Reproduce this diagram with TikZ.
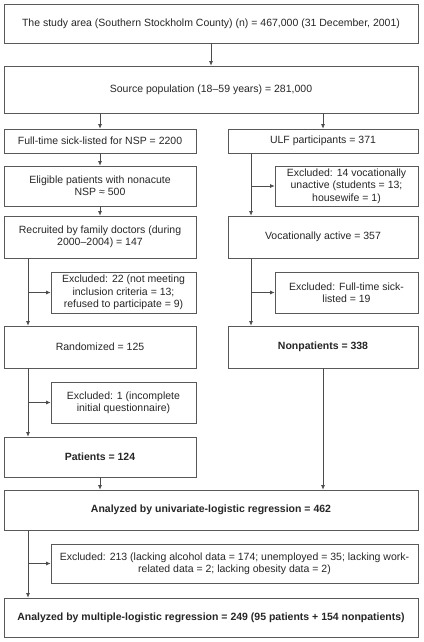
\documentclass[tikz,border=0pt]{standalone}
\usepackage{fontspec}
\setmainfont{Liberation Sans}
\usepackage{tikz}
\usetikzlibrary{arrows,arrows.meta,shapes}
\tikzstyle{box}=[rectangle,draw=black!65,line width=0.7pt,text=black!85,align=center,inner sep=2pt,font=\fontsize{10.5}{12.4}\selectfont]
\tikzstyle{bold box} = [box, font=\fontsize{10.5}{12.4}\selectfont\bfseries]
\tikzstyle{edge} = [draw,black!70,line width=0.7pt,-{Latex[length=4.5pt,width=4pt]}]

\begin{document}
\begin{tikzpicture}[x=1pt,y=-1pt]
    \useasboundingbox (0,0) rectangle (423,642);
    % First we draw the boxes
    \node[box,minimum width=414pt,minimum height=39pt] (study) at (211,23.5) {The study area (Southern Stockholm County) (n) = 467,000 (31 December, 2001)};
    \node[box,minimum width=414pt,minimum height=47pt] (source) at (211,89.5) {Source population (18--59 years) = 281,000};
    \node[box,minimum width=192pt,minimum height=24pt] (nsp) at (100,141) {Full-time sick-listed for NSP = 2200};
    \node[box,minimum width=190pt,minimum height=24pt] (ulf) at (323,141) {ULF participants = 371};
    \node[box,minimum width=192pt,minimum height=40pt] (eligible) at (100,186) {Eligible patients with nonacute\\NSP ≈ 500};
    \node[box,minimum width=143pt,minimum height=40pt] (exclR1) at (346.5,186) {Excluded: 14 vocationally\\unactive (students = 13;\\housewife = 1)};
    \node[box,minimum width=192pt,minimum height=42pt] (recruited) at (100,237) {Recruited by family doctors (during\\2000--2004) = 147};
    \node[box,minimum width=190pt,minimum height=42pt] (vocational) at (323,237) {Vocationally active = 357};
    \node[box,minimum width=145pt,minimum height=41pt] (exclL2) at (123.5,292.5) {Excluded: 22 (not meeting\\inclusion criteria = 13;\\refused to participate = 9)};
    \node[box,minimum width=143pt,minimum height=41pt] (exclR2) at (346.5,292.5) {Excluded: Full-time sick-\\listed = 19};
    \node[box,minimum width=192pt,minimum height=42pt] (randomized) at (100,347) {Randomized = 125};
    \node[bold box,minimum width=190pt,minimum height=42pt] (nonpatients) at (323,347) {Nonpatients = 338};
    \node[box,minimum width=145pt,minimum height=41pt] (exclL3) at (123.5,402.5) {Excluded: 1 (incomplete\\initial questionnaire)};
    \node[bold box,minimum width=192pt,minimum height=40pt] (patients) at (100,457) {Patients = 124};
    \node[bold box,minimum width=414pt,minimum height=40pt] (univariate) at (211,510) {Analyzed by univariate-logistic regression = 462};
    \node[box,minimum width=367pt,minimum height=39pt] (exclL4) at (234.5,563.5) {Excluded: 213 (lacking alcohol data = 174; unemployed = 35; lacking work-\\related data = 2; lacking obesity data = 2)};
    \node[bold box,minimum width=414pt,minimum height=39pt] (multiple) at (211,617.5) {Analyzed by multiple-logistic regression = 249 (95 patients + 154 nonpatients)};

    % trunks for the side exclusions
    \coordinate (trunkL) at (28,0);
    \coordinate (trunkR) at (251,0);

    % Connect boxes with arrows
    \foreach \source/\dest in {study/source, nsp/eligible, eligible/recruited}
        \path[edge] (\source) -- (\dest);
    \foreach \dest in {nsp, ulf}
        \path[edge] (source.south -| \dest) -- (\dest);
    \foreach \source in {patients, nonpatients}
        \path[edge] (\source) -- (univariate.north -| \source);

    % side branches
    \foreach \source/\excl/\dest/\trunk in {recruited/exclL2/randomized/trunkL, randomized/exclL3/patients/trunkL, univariate/exclL4/multiple/trunkL, ulf/exclR1/vocational/trunkR, vocational/exclR2/nonpatients/trunkR}
    {
        \path[edge] (\source.south -| \trunk) -- (\dest.north -| \trunk);
        \path[edge] (\excl.west -| \trunk) -- (\excl.west);
    }
\end{tikzpicture}
\end{document}
